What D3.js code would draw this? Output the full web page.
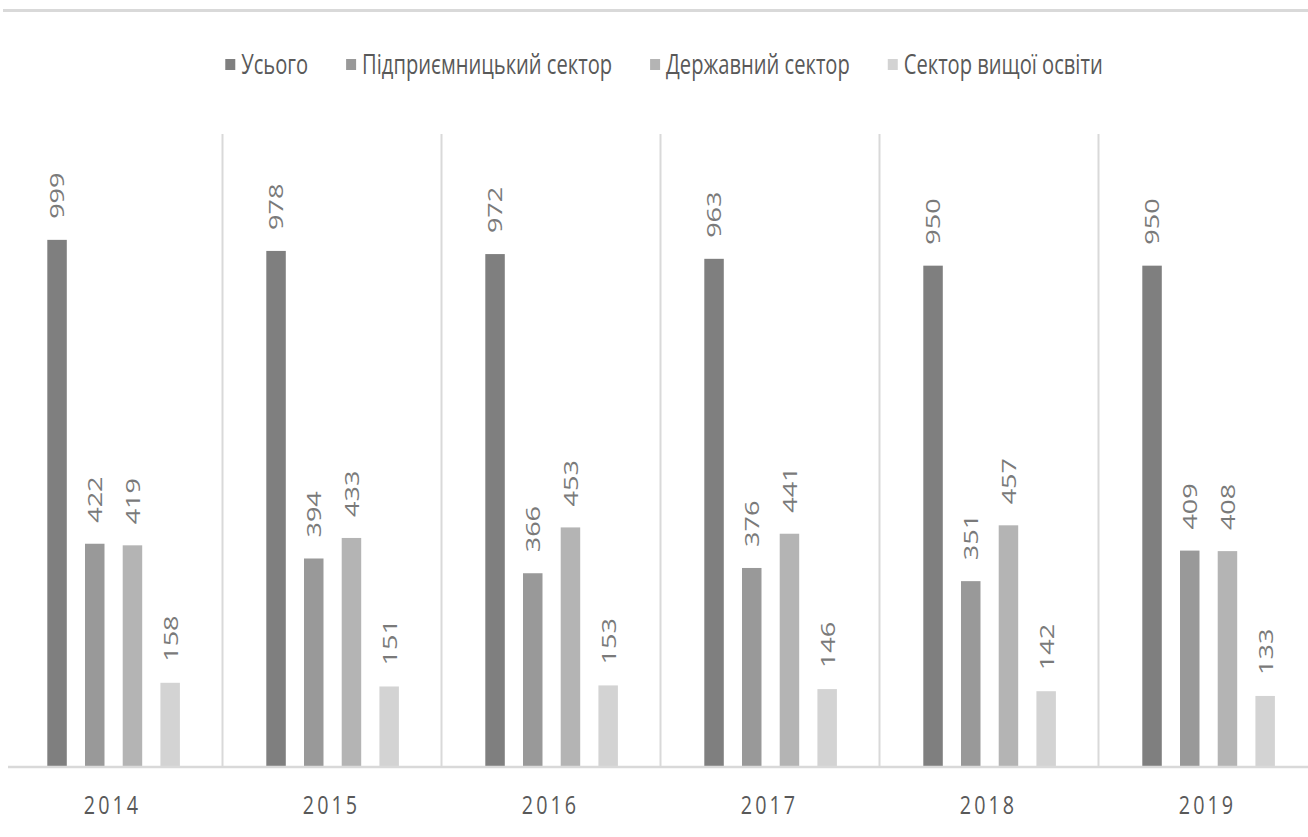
<!DOCTYPE html>
<html>
<head>
<meta charset="utf-8">
<script src="https://cdn.jsdelivr.net/npm/d3@7"></script>
<style>
  body { margin: 0; background: #fff; }
  text { font-family: "Open Sans", "Noto Sans", sans-serif; }
</style>
</head>
<body>
<div id="chart"></div>
<script>
var years = ['2014', '2015', '2016', '2017', '2018', '2019'];
var seriesNames = ['Усього', 'Підприємницький сектор', 'Державний сектор', 'Сектор вищої освіти'];
var total = [999, 978, 972, 963, 950, 950];
var business = [422, 394, 366, 376, 351, 409];
var government = [419, 433, 453, 441, 457, 408];
var higherEd = [158, 151, 153, 146, 142, 133];
var colors = ['#7f7f7f', '#999999', '#b4b4b4', '#d3d3d3'];

var seriesValues = [total, business, government, higherEd];

var width = 1308, height = 837;
var sx = 0.76; // the picture is squeezed sideways, text follows

var svg = d3.select('#chart')
    .append('svg')
    .attr('width', width)
    .attr('height', height);

// top border
svg.append('line')
    .attr('x1', 3).attr('x2', width)
    .attr('y1', 10.5).attr('y2', 10.5)
    .attr('stroke', '#d9d9d9')
    .attr('stroke-width', 3);

var xScale = d3.scaleBand().domain(years).range([3, 1317]);
var inner = d3.scaleBand().domain(d3.range(4)).range([44.3, 176.9]).paddingInner(0.483);
var yScale = d3.scaleLinear().domain([0, 1200]).range([766, 134]);

// group separators
svg.append('g').selectAll('line')
    .data(years.slice(1))
    .enter().append('line')
    .attr('x1', d => xScale(d) + 0.5)
    .attr('x2', d => xScale(d) + 0.5)
    .attr('y1', yScale(1200))
    .attr('y2', yScale(0))
    .attr('stroke', '#d9d9d9')
    .attr('stroke-width', 2);

var rows = [];
years.forEach((y, i) => {
    seriesValues.forEach((vals, s) => rows.push({ year: y, s: s, v: vals[i] }));
});

var bars = svg.append('g');
bars.selectAll('rect')
    .data(rows)
    .enter().append('rect')
    .attr('x', d => xScale(d.year) + inner(d.s))
    .attr('width', inner.bandwidth())
    .attr('y', d => yScale(d.v))
    .attr('height', d => yScale(0) - yScale(d.v))
    .attr('fill', d => colors[d.s]);

// value labels, rotated
bars.selectAll('text')
    .data(rows)
    .enter().append('text')
    .attr('transform', d => `translate(${xScale(d.year) + inner(d.s) + inner.bandwidth() / 2},${yScale(d.v) - 21}) rotate(-90) scale(1,${sx})`)
    .attr('dy', '0.36em')
    .attr('font-size', 27)
    .attr('fill', '#7a7a7a')
    .text(d => d.v);

// baseline
svg.append('line')
    .attr('x1', 8).attr('x2', width)
    .attr('y1', yScale(0) + 1).attr('y2', yScale(0) + 1)
    .attr('stroke', '#d9d9d9')
    .attr('stroke-width', 2.5);

// year labels
svg.append('g').selectAll('text')
    .data(years)
    .enter().append('text')
    .attr('transform', d => `translate(${xScale(d) + xScale.bandwidth() / 2},814) scale(${sx},1)`)
    .attr('text-anchor', 'middle')
    .attr('font-size', 26)
    .attr('letter-spacing', 4)
    .attr('fill', '#595959')
    .text(d => d);

// legend
var legend = svg.append('g');
var items = legend.selectAll('g')
    .data(seriesNames)
    .enter().append('g');

items.append('rect')
    .attr('width', 10).attr('height', 11)
    .attr('y', -6)
    .attr('fill', (d, i) => colors[i]);

items.append('text')
    .attr('transform', `translate(16,0) scale(${sx},1)`)
    .attr('dy', '0.35em')
    .attr('font-size', 26.5)
    .attr('fill', '#595959')
    .text(d => d);

var xPos = 0;
items.each(function () {
    var w = d3.select(this).select('text').node().getComputedTextLength() * sx;
    d3.select(this).attr('transform', `translate(${xPos},65)`);
    xPos += 16 + w + 38;
});
var legendWidth = xPos - 38;
legend.attr('transform', `translate(${664 - legendWidth / 2},0)`);
</script>
</body>
</html>
